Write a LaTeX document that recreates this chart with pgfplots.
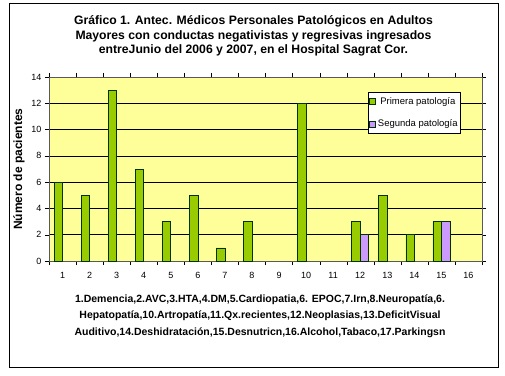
\documentclass[border=0pt]{standalone}
\usepackage{fontspec}
\setmainfont{Liberation Sans}
\usepackage{pgfplots}
\pgfplotsset{compat=1.18}
\definecolor{barG}{HTML}{99CC00}
\definecolor{barP}{HTML}{CC99FF}
\definecolor{bgY}{HTML}{FFFF99}
\begin{document}
\begin{tikzpicture}[x=1pt,y=1pt]
\useasboundingbox (0,0) rectangle (505,375);
\fill[white] (0,0) rectangle (505,375);
\draw[black, line width=1pt] (9,8) rectangle (498,371);
\node[font=\bfseries\fontsize{12.2}{14.5}\selectfont, align=center] at (253.5,339)
 {Gráfico 1. Antec. Médicos Personales Patológicos en Adultos\\
  Mayores con conductas negativistas y regresivas ingresados\\
  entreJunio del 2006 y 2007, en el Hospital Sagrat Cor.};
\node[font=\bfseries\fontsize{10.5}{16.5}\selectfont, align=center] at (260,59)
 {1.Demencia,2.AVC,3.HTA,4.DM,5.Cardiopatia,6. EPOC,7.Irn,8.Neuropatía,6.\\
  Hepatopatía,10.Artropatía,11.Qx.recientes,12.Neoplasias,13.DeficitVisual\\
  Auditivo,14.Deshidratación,15.Desnutricn,16.Alcohol,Tabaco,17.Parkingsn};
\begin{axis}[at={(49pt,114pt)}, anchor=south west, scale only axis,
  width=433pt, height=184pt,
  xmin=0.5, xmax=16.5, ymin=0, ymax=14,
  ytick={0,2,...,14}, xtick={1,...,16},
  minor xtick={0.5,1.5,...,16.5},
  tick align=outside, major tick length=4pt, minor tick length=4pt,
  major x tick style={draw=none},
  tick style={black},
  axis background/.style={fill=bgY},
  ymajorgrids, major grid style={black, line width=0.6pt},
  axis line style={draw=gray!70!black},
  /pgf/number format/assume math mode=true,
  ticklabel style={font=\fontsize{9}{10}\selectfont},
  xticklabel style={yshift=-4pt},
  ylabel={Número de pacientes},
  ylabel style={font=\bfseries\fontsize{12}{14}\selectfont},
  ybar=0pt, bar width=8.5pt,
  legend style={at={(rel axis cs:0.737,0.918)}, anchor=north west,
    font=\fontsize{9.5}{10}\selectfont, draw=black, row sep=10pt,
    inner xsep=1pt, inner ysep=3pt},
  legend image code/.code={\draw[#1] (0pt,-3pt) rectangle (6pt,3pt);},
]
\addplot[fill=barG, draw=black!80!green, line width=0.6pt] coordinates {
 (1,6) (2,5) (3,13) (4,7) (5,3) (6,5) (7,1) (8,3) (10,12) (12,3) (13,5) (14,2) (15,3)};
\addlegendentry{Primera patología}
\addplot[fill=barP, draw=black!80!green, line width=0.6pt] coordinates {
 (12,2) (15,3)};
\addlegendentry{Segunda patología}
\end{axis}
\end{tikzpicture}
\end{document}
